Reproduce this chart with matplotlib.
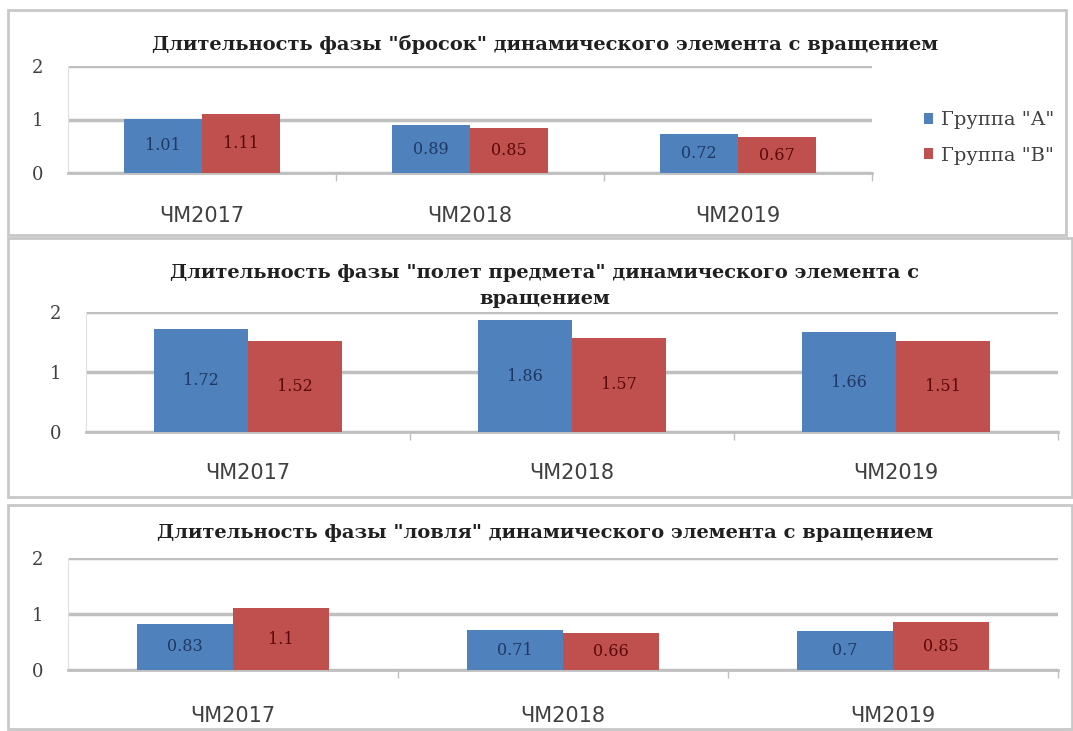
import matplotlib.pyplot as plt
from matplotlib.patches import Rectangle

# ─── Data ─────────────────────────────────────────────────────────────────────

categories = ["ЧМ2017", "ЧМ2018", "ЧМ2019"]
series_names = ['Группа "А"', 'Группа "В"']

throw_a = [1.01, 0.89, 0.72]
throw_b = [1.11, 0.85, 0.67]

flight_a = [1.72, 1.86, 1.66]
flight_b = [1.52, 1.57, 1.51]

catch_a = [0.83, 0.71, 0.7]
catch_b = [1.1, 0.66, 0.85]

titles = [
    'Длительность фазы "бросок" динамического элемента с вращением',
    'Длительность фазы "полет предмета" динамического элемента с\nвращением',
    'Длительность фазы "ловля" динамического элемента с вращением',
]

# ─── Style ────────────────────────────────────────────────────────────────────

W, H = 1073, 731
BLUE = "#4F81BD"
RED = "#C0504D"
GRID = "#BFBFBF"
plt.rcParams["font.family"] = ["DejaVu Serif"]

fig = plt.figure(figsize=(W / 100, H / 100), dpi=100)


def px_box(left, top, right, bottom):
    return [left / W, 1 - bottom / H, (right - left) / W, (bottom - top) / H]


# panel frames (left, top, right, bottom in pixels)
frames = [(8, 10, 1066, 235), (8, 238, 1072, 497), (8, 505, 1072, 729)]
for l, t, r, b in frames:
    fig.patches.append(Rectangle((l / W, 1 - b / H), (r - l) / W, (b - t) / H,
                                 transform=fig.transFigure, fill=False,
                                 edgecolor="#C8C8C8", linewidth=2))

# plot areas: left, y=2 line, right, y=0 line
areas = [(68, 66, 872, 173), (86, 312, 1058, 432), (68, 558, 1058, 670)]
title_y = [45, 286, 533]
label_pad = [24, 22, 26]
data = [(throw_a, throw_b), (flight_a, flight_b), (catch_a, catch_b)]

x = list(range(len(categories)))
width = 0.29

for i, (area, (vals_a, vals_b)) in enumerate(zip(areas, data)):
    ax = fig.add_axes(px_box(*area))
    bars_a = ax.bar([p - width / 2 for p in x], vals_a, width, color=BLUE,
                    label=series_names[0], zorder=3)
    bars_b = ax.bar([p + width / 2 for p in x], vals_b, width, color=RED,
                    label=series_names[1], zorder=3)

    for bar, v in zip(bars_a, vals_a):
        ax.text(bar.get_x() + bar.get_width() / 2, v / 2, f"{v:g}",
                ha="center", va="center", fontsize=11.5, color="#1F3864",
                zorder=4)
    for bar, v in zip(bars_b, vals_b):
        ax.text(bar.get_x() + bar.get_width() / 2, v / 2, f"{v:g}",
                ha="center", va="center", fontsize=11.5, color="#5A0A0A",
                zorder=4)

    ax.set_xlim(-0.5, len(categories) - 0.5)
    ax.set_ylim(0, 2)
    ax.set_yticks([0, 1, 2])
    ax.yaxis.grid(True, color=GRID, linewidth=2.5, zorder=0)
    ax.set_axisbelow(True)

    ax.set_xticks(x)
    ax.set_xticklabels(categories, fontsize=15, color="#404040",
                       family="DejaVu Sans")
    ax.set_xticks([p + 0.5 for p in x[:-1]] + [len(categories) - 0.5], minor=True)
    ax.tick_params(axis="x", which="major", length=0, pad=label_pad[i])
    ax.tick_params(axis="x", which="minor", length=6, color=GRID, width=1)
    ax.tick_params(axis="y", length=0, labelsize=13, labelcolor="#404040", pad=18)

    for side in ["top", "right"]:
        ax.spines[side].set_visible(False)
    ax.spines["left"].set_color("#E0E0E0")
    ax.spines["bottom"].set_color(GRID)
    ax.spines["bottom"].set_linewidth(2)
    ax.patch.set_alpha(0)

    fig.text(545 / W, 1 - title_y[i] / H, titles[i], ha="center", va="center",
             fontsize=14, fontweight="bold", color="#202020", linespacing=1.6)

    if i == 0:
        ax.legend(loc="center left", bbox_to_anchor=(906 / W, 1 - 138 / H),
                  bbox_transform=fig.transFigure, frameon=False, fontsize=14,
                  handlelength=0.5, handleheight=0.5, handletextpad=0.4,
                  labelspacing=0.9, labelcolor="#404040")

plt.savefig("out.png", dpi=100)
